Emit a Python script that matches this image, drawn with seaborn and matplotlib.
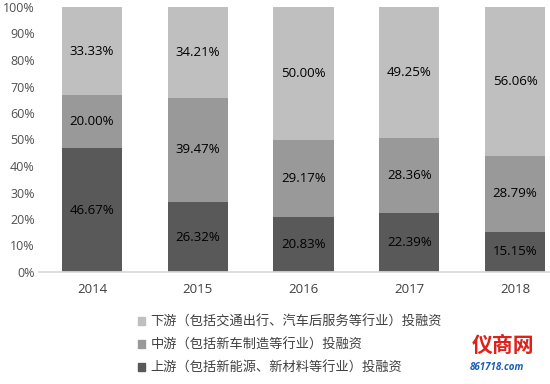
import pandas as pd
import seaborn as sns
import matplotlib.pyplot as plt
from matplotlib.patches import Patch

# 数据
years = ['2014', '2015', '2016', '2017', '2018']
upstream = [46.67, 26.32, 20.83, 22.39, 15.15]     # 上游
midstream = [20.00, 39.47, 29.17, 28.36, 28.79]    # 中游
downstream = [33.33, 34.21, 50.00, 49.25, 56.06]   # 下游
series_names = ['下游（包括交通出行、汽车后服务等行业）投融资',
                '中游（包括新车制造等行业）投融资',
                '上游（包括新能源、新材料等行业）投融资']

COLORS = {'down': '#bfbfbf', 'mid': '#999999', 'up': '#595959'}

sns.set_theme(style='white')
plt.rcParams['font.family'] = ['Open Sans', 'Noto Sans CJK SC', 'DejaVu Sans']

df = pd.DataFrame({'year': years, 'up': upstream, 'mid': midstream, 'down': downstream})
df['c_up'] = df['up']
df['c_mid'] = df['up'] + df['mid']
df['c_down'] = df['c_mid'] + df['down']

fig = plt.figure(figsize=(5.5, 3.84), dpi=100)
ax = fig.add_axes([39 / 550, 1 - 272 / 384, 511 / 550, 265 / 384])

# 堆叠：先画总高，再往下叠
for col, key in [('c_down', 'down'), ('c_mid', 'mid'), ('c_up', 'up')]:
    sns.barplot(data=df, x='year', y=col, color=COLORS[key], width=0.57,
                saturation=1, ax=ax, linewidth=0)

# 数据标签，放在每段中间
for i in range(len(years)):
    segs = [(0, upstream[i]), (upstream[i], midstream[i]),
            (upstream[i] + midstream[i], downstream[i])]
    for base, h in segs:
        ax.text(i, base + h / 2, f'{h:.2f}%', ha='center', va='center',
                fontsize=9.5, color='black')

ax.set_xlim(-0.5, 4.33)
ax.set_ylim(0, 100)
ax.set_yticks(range(0, 101, 10))
ax.set_yticklabels([f'{v}%' for v in range(0, 101, 10)], fontsize=9, color='#505050')
ax.tick_params(axis='x', labelsize=9.5, colors='#404040', pad=8, length=0)
ax.tick_params(axis='y', length=0, pad=3)
ax.set_xlabel('')
ax.set_ylabel('')
for s in ['top', 'right', 'left']:
    ax.spines[s].set_visible(False)
ax.spines['bottom'].set_color('#d9d9d9')

handles = [Patch(color=COLORS['down']), Patch(color=COLORS['mid']), Patch(color=COLORS['up'])]
fig.legend(handles, series_names, loc='upper left', bbox_to_anchor=(126 / 550, 1 - 304 / 384),
           frameon=False, fontsize=9.5, handlelength=0.55, handleheight=0.55,
           handletextpad=0.4, labelspacing=0.75, labelcolor='#404040')

# 仪商网 logo 文字
fig.text(472 / 550, 1 - 345 / 384, '仪商网', color='#e0201b', fontsize=15,
         fontweight='bold', va='center', ha='left', family=['Noto Sans CJK SC'])
fig.text(470 / 550, 1 - 368 / 384, '861718.com', color='#1a5fb4', fontsize=7,
         fontweight='bold', fontstyle='italic', va='center', ha='left')

fig.savefig('out.png', dpi=100)
